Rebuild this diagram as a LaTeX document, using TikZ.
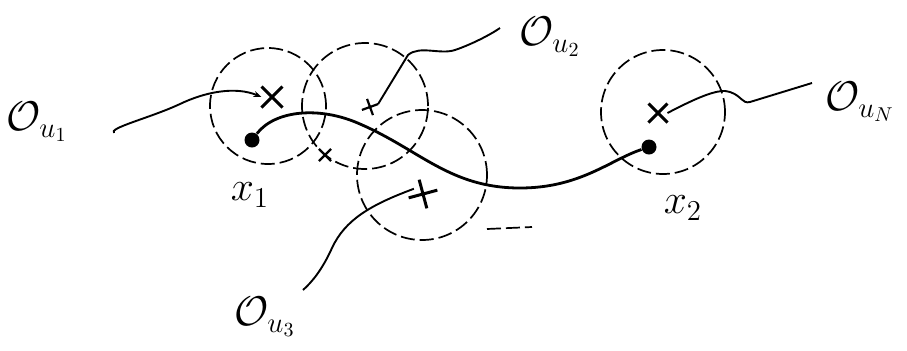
\documentclass[tikz,border=0pt]{standalone}
\usetikzlibrary{shapes.misc,arrows.meta}
\begin{document}
\begin{tikzpicture}[x=0.5pt,y=-0.5pt,
  ball/.style={circle,draw,inner sep=0pt,outer sep=0pt,line width=0.85pt,
               dash pattern=on 7pt off 2.5pt},
  xmark/.style={cross out,draw,inner sep=0pt,line width=1.5pt},
  pt/.style={circle,fill,inner sep=0pt,minimum size=7.5pt},
  lead/.style={line width=0.95pt},
  lab/.style={font=\fontsize{20}{22}\selectfont,inner sep=1pt},
  route/.style={line width=1.4pt}]
\useasboundingbox (0,0) rectangle (907,350);

% dashed neighbourhoods
\node[ball,minimum size=58pt] (c1) at (268,106) {};
\node[ball,minimum size=63pt] (c2) at (365,106) {};
\node[ball,minimum size=65pt] (c3) at (422,175) {};
\node[ball,minimum size=62pt] (cN) at (663,112) {};
\coordinate (t1) at (487,229);
\coordinate (t2) at (532,227);
\draw[line width=0.85pt,dash pattern=on 7pt off 2.5pt] (t1) -- (t2);

% centres
\node[xmark,minimum size=9pt] (m1) at (272,97) {};
\node[xmark,minimum size=5pt,line width=1.1pt,rotate=-25] (m2) at (370,107) {};
\node[xmark,minimum size=5pt,line width=1.1pt] (mx) at (325,155) {};
\node[xmark,minimum size=9pt,rotate=-30] (m3) at (423,194) {};
\node[xmark,minimum size=8pt] (mN) at (658,113) {};

% end points and the path joining them
\node[pt] (p1) at (252,140) {};
\node[pt] (p2) at (649,147) {};
\draw[route] (p1) .. controls (275,110) and (320,106) .. (360,124)
  .. controls (420,150) and (450,188) .. (520,188)
  .. controls (580,188) and (610,160) .. (p2);

% labels
\node[lab] (l1) at (37,122) {$\mathcal{O}_{u_1}$};
\node[lab] (l2) at (550,37) {$\mathcal{O}_{u_2}$};
\node[lab] (l3) at (265,317) {$\mathcal{O}_{u_3}$};
\node[lab] (lN) at (860,102) {$\mathcal{O}_{u_N}$};
\node[lab] (x1) at (250,195) {$x_1$};
\node[lab] (x2) at (683,208) {$x_2$};

% leader lines
\coordinate (a1) at (114,133);
\draw[lead,-{Stealth[length=4pt,width=3pt]}] (a1) .. controls (108,128) and (150,118) .. (180,104)
  .. controls (205,92) and (235,86) .. (m1.west);
\coordinate (a2) at (500,28);
\draw[lead] (m2.north east) -- (408,55) .. controls (420,45) and (440,55) .. (455,50)
  .. controls (470,45) and (490,35) .. (a2);
\coordinate (a3) at (303,290);
\draw[lead] (m3.west) .. controls (370,205) and (345,220) .. (332,248)
  .. controls (322,270) and (312,282) .. (a3);
\coordinate (aN) at (812,83);
\draw[lead] (mN.east) .. controls (700,96) and (720,88) .. (730,92)
  .. controls (742,96) and (742,104) .. (750,102) -- (aN);
\end{tikzpicture}
\end{document}
